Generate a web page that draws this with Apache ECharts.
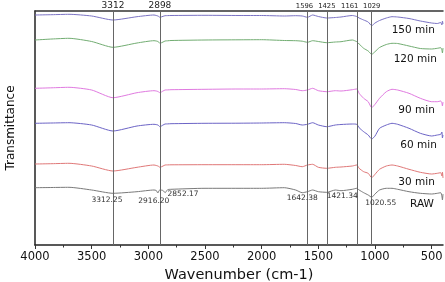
<!DOCTYPE html>
<html>
<head>
<meta charset="utf-8">
<script src="https://cdn.jsdelivr.net/npm/echarts@6/dist/echarts.min.js"></script>
<style>html,body{margin:0;padding:0;background:#fff}#c{width:445px;height:282px}</style>
</head>
<body>
<div id="c"></div>
<script>
// ---- data ----
const wavenumbers = [4000, 3850, 3700, 3500, 3312, 3100, 2950, 2930, 2916, 2905, 2898, 2870, 2852, 2830, 2800, 2500, 2200, 2000, 1800, 1700, 1642, 1596, 1550, 1500, 1425, 1350, 1300, 1200, 1161, 1140, 1100, 1060, 1029, 1000, 960, 900, 850, 800, 700, 600, 500, 450, 420, 410, 405, 400];
const seriesNames = ['150 min', '120 min', '90 min', '60 min', '30 min', 'RAW'];
const t150 = [231, 231.3, 231.7, 230, 226, 229.3, 231, 230.5, 230, 229.3, 228.7, 229.7, 230.3, 230.4, 230.5, 230.7, 230.5, 230.5, 230, 230.3, 230, 228.7, 231, 229.5, 228, 228.5, 229, 230.5, 229.5, 228, 226, 224, 220.3, 223, 225.5, 228, 229.3, 229, 227.5, 225, 223, 222.5, 223.5, 221, 225, 222];
const t120 = [206, 207, 207.7, 204.5, 198.7, 203, 205.3, 205, 204.5, 203.5, 202.7, 204, 205, 205.2, 205.5, 206, 206.2, 206.3, 205.5, 205.3, 204.8, 203.7, 205.3, 204.5, 203.3, 204, 204.3, 206, 204.3, 202, 197.7, 195, 191.7, 194.3, 198.5, 201.5, 202.7, 202.5, 200, 197.5, 197, 197.7, 198.3, 196, 193, 198];
const t90 = [157.7, 158.2, 158.7, 156, 148.3, 153.3, 155.3, 155, 154.5, 153.8, 153.3, 155, 156, 156.1, 156.3, 156.7, 157, 157, 157.3, 156.5, 155.3, 156, 157.7, 155.3, 154.3, 155.3, 155, 156.3, 157, 152.7, 147.7, 144.3, 138.3, 141.7, 147.7, 154.3, 156.7, 156, 152.7, 147.7, 144.3, 144.3, 145, 143, 140, 144];
const t60 = [122.7, 123, 123.3, 121, 115, 120, 121.7, 121.4, 121, 120, 119.3, 121, 122, 122.1, 122.3, 122.7, 122.8, 123, 123.3, 122.5, 121, 121.7, 123.3, 121, 119.3, 121, 121.5, 122, 121.7, 118.3, 114.3, 111, 107, 110, 117.7, 121, 122.7, 121.7, 117.7, 112.7, 110, 111, 111.7, 114, 108, 111];
const t30 = [82, 82.3, 82.7, 80, 75, 78.7, 81, 80.5, 80, 79.3, 78.7, 80, 81, 81.1, 81.2, 81.3, 81.3, 81.3, 81.7, 80.5, 79.3, 81, 81.7, 78.7, 77.7, 78.7, 79, 80, 81, 77.7, 74.3, 72.7, 68.3, 71.7, 76.7, 80, 81, 80, 76.7, 73.7, 72, 72.7, 73.3, 70, 74, 68];
const tRaw = [58.3, 58.5, 58.7, 56, 52.7, 54.3, 56, 55.5, 53, 55.5, 56, 55.5, 53.3, 56.3, 56.7, 57.7, 57.7, 57.7, 58.3, 56, 53.3, 54.3, 56, 54.3, 53.7, 56, 55.3, 56.7, 57.7, 56, 53.3, 51, 48.7, 52, 56, 57.7, 57.7, 56.7, 54.3, 52.7, 52, 52.7, 53.3, 50, 46, 52];
const markerLines = [3312, 2898, 1596, 1425, 1161, 1029];
const peakLabels = ['3312.25', '2916.20', '2852.17', '1642.38', '1421.34', '1020.55'];
const majorTicks = [4000, 3500, 3000, 2500, 2000, 1500, 1000, 500];
const minorTicks = [3750, 3250, 2750, 2250, 1750, 1250, 750];

// ---- styling / layout ----
const FONT = 'DejaVu Sans';
const colors = ['#7b73c4', '#72ad72', '#e07ae0', '#6c64c6', '#e07878', '#7a7a7a'];
const allValues = [t150, t120, t90, t60, t30, tRaw];
const nameOffsets = [[-5, 6.5], [-3, 10.7], [-5, 8.3], [-3, 10], [-5, 9.4], [-6, 10.7]];
const peakOffsets = [[-6, 7], [-4, 8], [18, 1], [0, 5], [15, 4], [8, 6]];
const markerLabelOffsets = { 3312: [0, 0], 2898: [0, 0], 1596: [-3, 0], 1425: [0, 0], 1161: [-7, 0], 1029: [0, 0] };

function nearestVal(arr, wn) {
  let bi = 0, bd = Infinity;
  wavenumbers.forEach((w, i) => { const d = Math.abs(w - wn); if (d < bd) { bd = d; bi = i; } });
  return arr[bi];
}

const series = allValues.map((vals, si) => ({
  name: seriesNames[si],
  type: 'line',
  showSymbol: false,
  symbol: 'none',
  smooth: 0.2,
  data: wavenumbers.map((w, i) => [w, vals[i]]),
  lineStyle: { color: colors[si], width: 1 },
  itemStyle: { color: colors[si] },
  z: 3,
  markPoint: {
    silent: true,
    symbol: 'circle',
    symbolSize: 0,
    data: [{
      coord: [wavenumbers[wavenumbers.length - 3], vals[vals.length - 5]],
      value: seriesNames[si],
      label: {
        show: true, position: 'inside', align: 'right', verticalAlign: 'middle',
        offset: [nameOffsets[si][0] - 2, nameOffsets[si][1]],
        formatter: seriesNames[si], fontFamily: FONT, fontSize: 10.5, color: '#111'
      }
    }]
  }
}));

// peak annotations on RAW
series[5].markPoint.data = series[5].markPoint.data.concat(peakLabels.map((p, i) => ({
  coord: [parseFloat(p), nearestVal(tRaw, parseFloat(p))],
  value: p,
  label: {
    show: true, position: 'inside', align: 'center', verticalAlign: 'middle',
    offset: peakOffsets[i], formatter: p, fontFamily: FONT, fontSize: 7.5, color: '#333'
  }
})));

// vertical marker lines
series.push({
  type: 'line', data: [], silent: true,
  markLine: {
    silent: true, symbol: ['none', 'none'], animation: false,
    lineStyle: { color: '#666', width: 1, type: 'solid' },
    data: markerLines.map((m, i) => ({
      xAxis: m,
      label: {
        show: true, position: 'end', distance: 1, formatter: String(m),
        fontFamily: FONT, fontSize: i < 2 ? 9 : 6.8, color: '#222',
        offset: markerLabelOffsets[m]
      }
    }))
  }
});

const baseX = { type: 'value', min: 400, max: 4000, inverse: true, splitLine: { show: false } };
const chart = echarts.init(document.getElementById('c'), null, { renderer: 'canvas' });
chart.setOption({
  animation: false,
  backgroundColor: '#fff',
  grid: { left: 35, right: 2, top: 11, bottom: 37, containLabel: false, outerBoundsMode: 'none' },
  xAxis: [
    Object.assign({}, baseX, {
      position: 'bottom',
      axisLine: { show: true, lineStyle: { color: '#222', width: 1.5 } },
      axisTick: { show: true, customValues: majorTicks, length: 4, lineStyle: { color: '#333' } },
      axisLabel: { show: true, customValues: majorTicks, formatter: v => String(v), fontFamily: FONT, fontSize: 11.5, color: '#111', margin: 6 },
      name: 'Wavenumber (cm-1)', nameLocation: 'middle', nameGap: 23,
      nameTextStyle: { fontFamily: FONT, fontSize: 14.5, color: '#111' }
    }),
    Object.assign({}, baseX, {
      position: 'bottom',
      axisLine: { show: false },
      axisTick: { show: true, customValues: minorTicks, length: 2.5, lineStyle: { color: '#333' } },
      axisLabel: { show: false }
    }),
    Object.assign({}, baseX, {
      position: 'top',
      axisLine: { show: true, lineStyle: { color: '#333', width: 1.5 } },
      axisTick: { show: false },
      axisLabel: { show: false }
    })
  ],
  yAxis: {
    type: 'value', min: 1, max: 235,
    axisLine: { show: true, lineStyle: { color: '#222', width: 1.5 } },
    axisTick: { show: false }, axisLabel: { show: false }, splitLine: { show: false },
    name: 'Transmittance', nameLocation: 'middle', nameGap: 18, nameRotate: 90,
    nameTextStyle: { fontFamily: FONT, fontSize: 12, color: '#111' }
  },
  series: series
});
</script>
</body>
</html>
